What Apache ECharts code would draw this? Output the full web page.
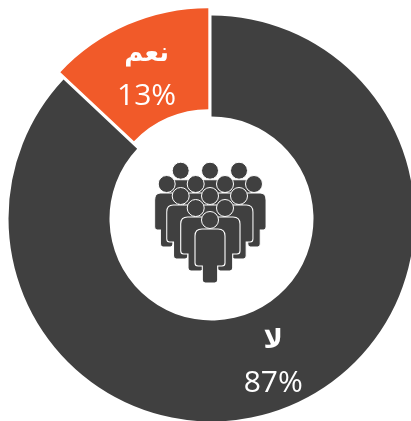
<!DOCTYPE html>
<html>
<head>
<meta charset="utf-8">
<style>
  html, body { margin: 0; padding: 0; background: #fff; }
  #chart { width: 411px; height: 421px; }
</style>
<script src="https://cdn.jsdelivr.net/npm/echarts@6/dist/echarts.min.js"></script>
</head>
<body>
<div id="chart"></div>
<script>
const categories = ["لا", "نعم"];
const values = [87, 13];
const colors = ["#404040", "#f15a29"];
const selectedFlags = [false, true];
// top padding nudges each label block down inside its slice
const labelPadTop = [3, 14];

// crowd icon, drawn back row first so the front figures overlap
const crowdRows = [
  [180.7, 210, 239],
  [166.7, 195.7, 225, 254],
  [180.7, 210, 239],
  [195.7, 225],
  [210]
];
const crowdHeadY = [170.7, 184, 196, 208, 220];
const crowdBodyScale = [0.8, 0.8, 0.93, 1, 1];
const iconColor = "#404040";

// one figure's body, origin at top centre of the shoulders
const bodyPath = "M-8 0 L8 0 Q15 0 15 7 L15 34 Q15 37 12 37 L7.7 37 L7.7 51 Q7.7 54 4.7 54 L-4.7 54 " +
  "Q-7.7 54 -7.7 51 L-7.7 37 L-12 37 Q-15 37 -15 34 L-15 7 Q-15 0 -8 0 Z";
echarts.graphic.registerShape("personBody", echarts.graphic.extendPath(bodyPath, {}));

function buildIcon() {
  const els = [];
  let z = 10;
  crowdRows.forEach((row, r) => {
    const headY = crowdHeadY[r];
    row.forEach(cx => {
      els.push({
        type: "personBody", z: z++,
        x: cx, y: headY + 9, scaleX: crowdBodyScale[r],
        style: { fill: iconColor, stroke: "#fff", lineWidth: 1.1 }
      });
    });
    row.forEach(cx => {
      els.push({
        type: "circle", z: z++,
        shape: { cx: cx, cy: headY, r: 8.5 },
        style: { fill: iconColor, stroke: "#fff", lineWidth: 1 }
      });
    });
  });
  return els;
}

const chart = echarts.init(document.getElementById("chart"));
chart.setOption({
  animation: false,
  graphic: buildIcon(),
  series: [
    {
      type: "pie",
      center: [211.5, 218.5],
      radius: [102, 203],
      startAngle: 90,
      clockwise: true,
      selectedMode: "multiple",
      selectedOffset: 8,
      emphasis: { disabled: true },
      labelLine: { show: false },
      label: {
        show: true,
        position: "inside",
        color: "#fff",
        formatter: p => `{name|${p.name}}\n{pct|${p.value}%}`,
        rich: {
          name: { fontFamily: "DejaVu Sans", fontWeight: "bold", fontSize: 26, color: "#fff", lineHeight: 42 },
          pct: { fontFamily: "Open Sans", fontSize: 30, color: "#fff", lineHeight: 42 }
        }
      },
      data: categories.map((name, i) => ({
        name: name,
        value: values[i],
        selected: selectedFlags[i],
        itemStyle: { color: colors[i] },
        label: { padding: [labelPadTop[i], 0, 0, 0] }
      }))
    }
  ]
});
</script>
</body>
</html>
